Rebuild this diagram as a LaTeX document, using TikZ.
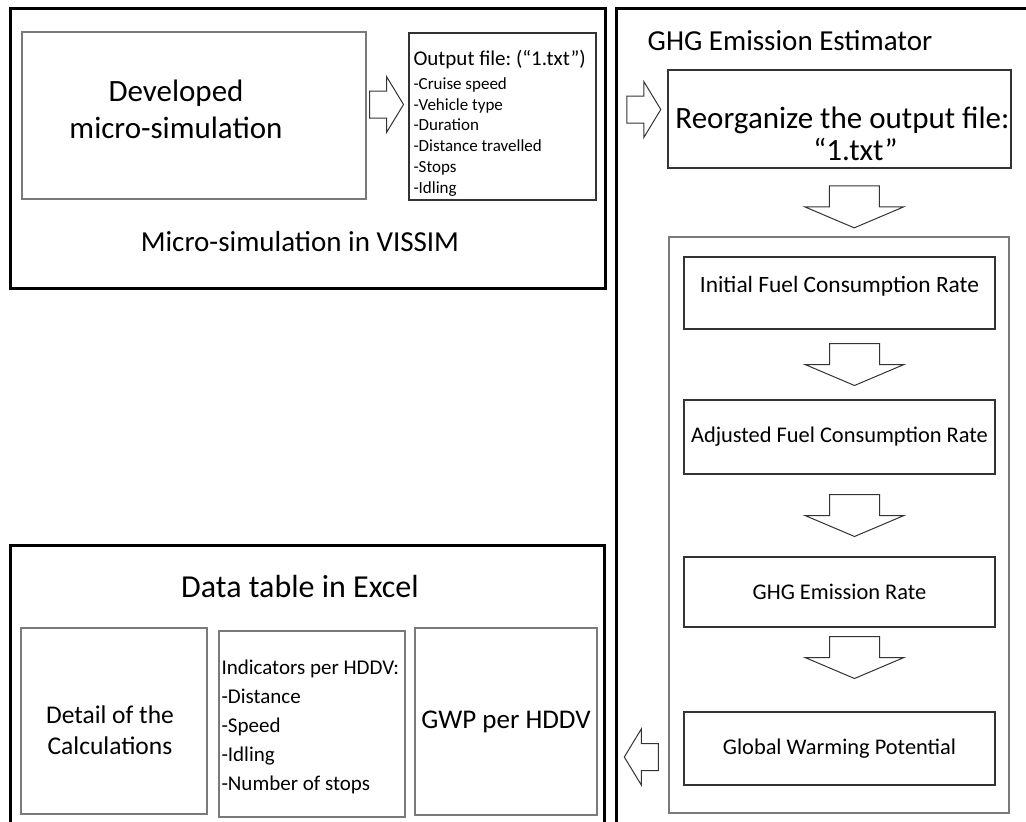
\documentclass[tikz,border=0pt]{standalone}
\usepackage{fontspec}
\setmainfont{Carlito}
\frenchspacing
\usetikzlibrary{positioning, calc}
\definecolor{cgrey}{HTML}{7A7A7A}
\definecolor{cdark}{HTML}{333333}
\newcommand{\fsz}[2]{\fontsize{#1}{#2}\selectfont}
\tikzset{
  every picture/.style={x=1pt, y=-1pt, line join=miter},
  frame/.style={draw=black, line width=3pt, inner sep=0pt},
  box/.style={draw=#1, line width=1.4pt, align=center, inner sep=0pt},
  box/.default=cgrey,
  heading/.style={font=\fsz{29}{34}},
  blk/.style={draw=cdark, line width=1pt, fill=white},
  pics/downarr/.style={code={
    \draw[blk] (-25,-21) -- (25,-21) -- (25,0) -- (49.5,0) -- (0,21) -- (-49.5,0) -- (-25,0) -- cycle;}},
  pics/rightarr/.style={code={
    \draw[blk] (-17,-13.5) -- (0,-13.5) -- (0,-28) -- (17,0) -- (0,28) -- (0,13.5) -- (-17,13.5) -- cycle;}},
}

\begin{document}
\begin{tikzpicture}
  \clip (0,0) rectangle (1026,822);
  % the three frames
  \node[frame, minimum width=595, minimum height=280] (vissim) at (307.5,148) {};
  \node[frame, minimum width=434, minimum height=842] (ghg) at (833,429) {};
  \node[frame, minimum width=594, minimum height=305] (excel) at (307,697.5) {};
  % micro-simulation in VISSIM
  \node[box, minimum width=344, minimum height=167] (dev) at (194,115.5) {};
  \node[align=center, font=\fsz{31}{37}] (devtxt) at ([shift={(-18,-6.5)}]dev.center) {Developed\\micro-simulation};
  \node[box=cdark, minimum width=187, minimum height=167] (out) at (502.5,116.5) {};
  \node[anchor=north west, align=left, inner sep=0pt, font=\fsz{17}{20.7}] (outlist) at ([shift={(5,18)}]out.north west)
    {{\fsz{21}{22}Output file: (“1.txt”)}\\[3pt]-Cruise speed\\-Vehicle type\\-Duration\\-Distance travelled\\-Stops\\-Idling};
  \node[heading] (vissimttl) at (300,242) {Micro-simulation in VISSIM};
  \pic at ($(dev.east)!0.5!(out.west)+(-1,-11.5)$) {rightarr};
  % GHG emission estimator
  \node[heading] (ghgttl) at (790,41) {GHG Emission Estimator};
  \node[box=cdark, minimum width=343, minimum height=98] (reorg) at (839.5,119) {};
  \node[align=center, font=\fsz{31}{32}] (reorgtxt) at ([shift={(3,14.5)}]reorg.center) {Reorganize the output file:\\\hspace*{26pt}“1.txt”};
  \pic at ($(reorg.west)+(-23.5,-9.5)$) {rightarr};
  \node[box, line width=2pt, minimum width=340, minimum height=576] (chain) at (839,525) {};
  \node[box=cdark, minimum width=311, minimum height=72] (init) at (839.5,293) {};
  \node[font=\fsz{23.4}{28}] (inittxt) at ([shift={(0,-7)}]init.center) {Initial Fuel Consumption Rate};
  \node[box=cdark, minimum width=311, minimum height=74, font=\fsz{22.4}{27}] (adj) at (839.5,437) {Adjusted Fuel Consumption Rate};
  \node[box=cdark, minimum width=311, minimum height=70, font=\fsz{22.4}{27}] (emis) at (839.5,592) {GHG Emission Rate};
  \node[box=cdark, minimum width=311, minimum height=73, font=\fsz{22.4}{27}] (warm) at (839.5,748.5) {Global Warming Potential};
  \pic at ($(reorg.south)!0.5!(chain.north)+(15,4.5)$) {downarr};
  \pic at ($(init.south)!0.5!(adj.north)+(15,0)$) {downarr};
  \pic at ($(adj.south)!0.5!(emis.north)+(15,0)$) {downarr};
  \pic at ($(emis.south)!0.5!(warm.north)+(15,-12)$) {downarr};
  \pic[rotate=180] at ($(warm.west)+(-42,8.5)$) {rightarr};
  % data table in Excel
  \node[font=\fsz{32}{38}] (excelttl) at (300,587) {Data table in Excel};
  \node[box, minimum width=186, minimum height=186] (detail) at (114,721) {};
  \node[align=center, font=\fsz{25.5}{31}] (detailtxt) at ([shift={(-4,9)}]detail.center) {Detail of the\\Calculations};
  \node[box, minimum width=186, minimum height=186] (ind) at (312,724) {};
  \node[anchor=west, align=left, inner sep=0pt, font=\fsz{21}{29}] (indlist) at ([shift={(3,3)}]ind.west)
    {Indicators per HDDV:\\-Distance\\-Speed\\-Idling\\-Number of stops};
  \node[box, minimum width=182, minimum height=187, font=\fsz{27}{32}] (gwpval) at (506,721.5) {GWP per HDDV};
\end{tikzpicture}
\end{document}
